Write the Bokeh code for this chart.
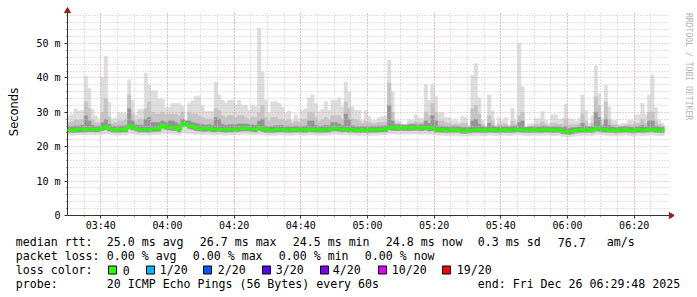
import math
from bokeh.plotting import figure
from bokeh.layouts import column, row
from bokeh.models import Range1d, FixedTicker, Grid
from bokeh.core.properties import value
from bokeh.embed import file_html
from bokeh.resources import INLINE

# ---------------- data (ms), one value per minute starting 03:30 ----------------
START_MIN = 210  # 03:30 in minutes since midnight

hi = [29.0, 29.5, 31.0, 30.4, 30.5, 40.5, 37.0, 30.9, 29.0, 28.0,
      40.1, 46.3, 33.0, 28.0, 28.5, 29.8, 29.8, 29.8, 39.3, 33.5,
      29.3, 30.9, 30.9, 41.4, 37.9, 36.3, 36.3, 33.9, 33.9, 31.5,
      31.5, 32.6, 32.6, 32.6, 31.8, 27.7, 32.6, 33.3, 34.7, 34.7,
      32.0, 30.2, 30.2, 30.2, 38.8, 35.0, 33.5, 32.8, 33.5, 33.5,
      32.1, 33.5, 32.1, 32.1, 30.6, 32.1, 31.7, 54.4, 41.7, 33.5,
      29.9, 33.1, 33.1, 32.6, 31.5, 29.7, 30.4, 27.7, 29.3, 28.3,
      30.6, 31.1, 34.3, 35.0, 32.6, 30.2, 30.9, 33.1, 30.6, 33.5,
      33.5, 34.2, 31.6, 38.8, 35.9, 31.6, 30.6, 30.6, 27.7, 30.5,
      28.8, 27.7, 27.7, 28.5, 28.8, 29.0, 45.2, 35.9, 27.7, 27.5,
      26.3, 26.3, 27.9, 27.7, 29.3, 28.5, 28.1, 38.1, 33.5, 38.0,
      34.6, 29.9, 29.9, 28.5, 28.5, 27.7, 27.9, 27.2, 28.8, 28.5,
      26.3, 40.8, 44.2, 34.2, 27.7, 26.0, 35.0, 30.4, 26.3, 28.5,
      27.7, 28.5, 26.3, 31.1, 27.7, 50.0, 37.4, 25.8, 26.5, 26.8,
      28.1, 28.1, 30.2, 27.7, 26.8, 29.3, 29.3, 28.0, 28.2, 32.4,
      28.2, 28.0, 27.5, 28.2, 35.0, 30.6, 26.8, 29.0, 43.5, 35.5,
      28.0, 37.9, 31.6, 27.7, 27.7, 26.5, 26.8, 26.8, 27.7, 27.7,
      29.3, 29.3, 32.6, 29.3, 35.0, 40.8, 31.4, 27.7, 26.8]

upper2 = [27.0, 27.3, 27.8, 27.6, 27.8, 33.0, 31.0, 27.8, 27.0, 26.8,
          30.0, 34.0, 28.5, 26.8, 27.0, 27.5, 27.5, 27.8, 35.0, 29.5,
          27.5, 28.0, 28.0, 31.0, 33.0, 30.0, 29.5, 29.5, 30.0, 29.5,
          29.5, 29.5, 29.5, 29.0, 30.0, 27.5, 30.0, 29.5, 29.5, 29.0,
          28.5, 28.0, 28.0, 28.0, 31.0, 30.5, 29.0, 28.5, 29.0, 29.0,
          28.5, 29.0, 29.0, 28.5, 28.0, 28.5, 28.5, 30.0, 32.0, 28.5,
          27.5, 28.5, 28.5, 28.0, 28.0, 27.5, 27.8, 26.8, 27.5, 27.0,
          27.8, 28.0, 30.0, 30.0, 28.5, 27.5, 27.8, 28.5, 27.8, 29.0,
          29.0, 29.0, 28.0, 33.0, 31.0, 28.0, 27.8, 27.5, 26.8, 27.5,
          27.0, 26.8, 26.8, 27.0, 27.0, 27.2, 38.5, 30.0, 26.8, 26.8,
          26.2, 26.2, 26.8, 26.8, 27.2, 27.0, 27.0, 30.0, 29.0, 32.5,
          30.0, 27.5, 27.5, 27.0, 26.8, 26.5, 26.6, 26.4, 26.8, 26.8,
          25.9, 31.0, 32.0, 29.5, 26.5, 25.8, 29.0, 27.5, 25.9, 26.6,
          26.4, 26.6, 25.9, 27.5, 26.4, 29.0, 30.0, 25.6, 25.9, 26.0,
          26.5, 26.5, 27.2, 26.4, 26.0, 26.8, 26.8, 26.5, 26.5, 28.0,
          26.3, 26.4, 26.3, 26.6, 29.5, 27.5, 26.0, 26.8, 34.5, 32.0,
          26.5, 33.0, 28.0, 26.4, 26.4, 26.0, 26.0, 26.2, 26.4, 26.4,
          26.8, 26.8, 28.0, 26.8, 30.0, 30.0, 27.5, 26.4, 26.0]

upper3 = [25.8, 25.9, 26.1, 26.0, 26.2, 29.0, 27.5, 26.2, 25.9, 26.0,
          27.0, 28.0, 26.5, 25.9, 25.9, 26.0, 26.0, 26.1, 31.0, 27.5,
          26.3, 26.2, 26.2, 28.0, 28.5, 27.0, 27.0, 27.0, 27.5, 27.0,
          27.5, 27.5, 27.0, 26.5, 28.0, 27.5, 27.5, 27.0, 26.8, 26.6,
          26.4, 26.3, 26.4, 26.1, 28.5, 28.0, 26.5, 26.2, 26.4, 26.4,
          26.4, 26.6, 26.6, 26.6, 26.4, 26.3, 26.2, 27.5, 28.0, 26.0,
          25.8, 26.0, 26.1, 26.1, 26.1, 25.9, 25.9, 25.8, 26.0, 25.9,
          25.9, 26.0, 27.5, 27.5, 26.2, 25.9, 26.0, 26.2, 26.1, 27.0,
          27.0, 26.6, 26.1, 29.5, 28.0, 26.1, 25.9, 25.9, 25.8, 25.9,
          25.8, 25.9, 25.9, 26.0, 26.0, 26.1, 32.0, 27.5, 26.4, 26.4,
          26.4, 26.3, 26.4, 26.5, 26.5, 26.4, 26.4, 27.5, 26.8, 29.0,
          27.5, 25.9, 25.9, 25.8, 25.8, 25.9, 25.9, 25.8, 25.6, 25.6,
          25.6, 27.5, 28.0, 26.5, 25.8, 25.7, 26.8, 26.0, 25.7, 25.8,
          25.8, 25.9, 25.7, 26.0, 26.0, 27.0, 27.5, 25.6, 25.7, 25.8,
          25.8, 25.7, 26.0, 25.9, 25.8, 25.8, 25.8, 25.8, 25.5, 25.8,
          25.3, 25.5, 25.6, 25.7, 26.8, 26.0, 25.8, 25.8, 30.0, 28.5,
          26.0, 28.0, 26.2, 25.7, 25.6, 25.7, 25.8, 25.9, 25.7, 25.6,
          25.8, 25.9, 26.2, 25.8, 27.5, 27.5, 26.0, 25.7, 25.6]

median = [24.8, 24.8, 24.9, 24.9, 25.0, 25.0, 25.2, 25.1, 25.0, 25.1,
          25.4, 25.7, 25.3, 25.0, 24.9, 24.9, 25.0, 25.0, 26.0, 25.6,
          25.3, 25.0, 25.0, 25.0, 24.9, 25.1, 25.2, 25.2, 26.2, 25.8,
          25.6, 25.5, 25.4, 25.0, 26.6, 26.6, 26.0, 25.8, 25.4, 25.3,
          25.2, 25.2, 25.3, 25.0, 25.0, 25.1, 25.0, 24.9, 25.0, 25.0,
          25.1, 25.2, 25.3, 25.3, 25.3, 25.1, 25.0, 25.5, 25.2, 24.9,
          24.8, 24.8, 24.9, 25.0, 25.0, 24.9, 24.8, 24.9, 25.0, 25.0,
          24.9, 24.9, 25.1, 25.0, 24.9, 24.8, 24.9, 24.9, 25.0, 25.3,
          25.3, 25.2, 25.0, 25.1, 24.9, 25.0, 24.8, 24.8, 24.9, 24.8,
          24.8, 24.9, 24.9, 25.0, 25.0, 25.0, 25.6, 25.5, 25.4, 25.4,
          25.5, 25.4, 25.4, 25.5, 25.5, 25.4, 25.4, 25.6, 25.3, 25.4,
          25.0, 24.9, 24.9, 24.8, 24.8, 24.9, 24.9, 24.8, 24.6, 24.6,
          24.7, 24.8, 24.9, 24.9, 24.8, 24.8, 24.9, 24.9, 24.8, 24.8,
          24.9, 24.9, 24.8, 24.9, 25.0, 25.0, 24.9, 24.8, 24.8, 24.9,
          24.9, 24.8, 24.9, 25.0, 24.9, 24.8, 24.8, 24.9, 24.5, 24.4,
          24.3, 24.5, 24.7, 24.8, 24.9, 24.8, 24.9, 24.8, 25.3, 25.2,
          25.0, 24.9, 24.8, 24.8, 24.7, 24.8, 24.9, 25.0, 24.8, 24.7,
          24.8, 24.9, 24.8, 24.9, 25.0, 25.1, 24.9, 24.8, 24.8]

# bottom of the darker smoke (lower pings)
low2 = [24.1, 24.1, 24.2, 24.2, 24.3, 24.3, 24.5, 24.4, 24.3, 24.4,
        24.7, 25.0, 24.6, 24.3, 24.2, 24.2, 24.3, 24.3, 25.3, 24.9,
        24.6, 24.3, 24.3, 24.3, 24.2, 24.4, 24.5, 24.5, 25.5, 25.1,
        24.9, 24.8, 24.7, 24.3, 25.9, 25.9, 25.3, 25.1, 24.7, 24.6,
        24.5, 24.5, 24.6, 24.3, 24.3, 24.4, 24.3, 24.2, 24.3, 24.3,
        24.4, 24.5, 24.6, 24.6, 24.6, 24.4, 24.3, 24.8, 24.5, 24.2,
        24.1, 24.1, 24.2, 24.3, 24.3, 24.2, 24.1, 24.2, 24.3, 24.3,
        24.2, 24.2, 24.4, 24.3, 24.2, 24.1, 24.2, 24.2, 24.3, 24.6,
        24.6, 24.5, 24.3, 24.4, 24.2, 24.3, 24.1, 24.1, 24.2, 24.1,
        24.1, 24.2, 24.2, 24.3, 24.3, 24.3, 24.9, 24.8, 24.7, 24.7,
        24.8, 24.7, 24.7, 24.8, 24.8, 24.7, 24.7, 24.9, 24.6, 24.7,
        24.3, 24.2, 24.2, 24.1, 24.1, 24.2, 24.2, 24.1, 23.9, 23.9,
        24.0, 24.1, 24.2, 24.2, 24.1, 24.1, 24.2, 24.2, 24.1, 24.1,
        24.2, 24.2, 24.1, 24.2, 24.3, 24.3, 24.2, 24.1, 24.1, 24.2,
        24.2, 24.1, 24.2, 24.3, 24.2, 24.1, 24.1, 24.2, 23.8, 23.7,
        23.6, 23.8, 24.0, 24.1, 24.2, 24.1, 24.2, 24.1, 24.6, 24.5,
        24.3, 24.2, 24.1, 24.1, 24.0, 24.1, 24.2, 24.3, 24.1, 24.0,
        24.1, 24.2, 24.1, 24.2, 24.3, 24.4, 24.2, 24.1, 24.1]

# minimum ping (bottom of the light smoke)
low = [23.3, 23.3, 23.4, 23.4, 23.5, 23.4, 23.5, 23.5, 23.4, 23.5,
       23.6, 23.7, 23.6, 23.4, 23.3, 23.3, 23.4, 23.4, 23.8, 23.7,
       23.6, 23.4, 23.4, 23.4, 23.3, 23.5, 23.5, 23.5, 23.9, 23.8,
       23.7, 23.7, 23.6, 23.4, 24.0, 24.0, 23.8, 23.7, 23.6, 23.6,
       23.5, 23.5, 23.6, 23.4, 23.4, 23.5, 23.4, 23.3, 23.4, 23.4,
       23.5, 23.5, 23.6, 23.6, 23.6, 23.5, 23.4, 23.6, 23.5, 23.3,
       23.3, 23.3, 23.3, 23.4, 23.4, 23.3, 23.3, 23.3, 23.4, 23.4,
       23.3, 23.3, 23.5, 23.4, 23.3, 23.3, 23.3, 23.3, 23.4, 23.6,
       23.6, 23.5, 23.4, 23.5, 23.3, 23.4, 23.3, 23.2, 23.3, 23.2,
       23.2, 23.3, 23.3, 23.4, 23.4, 23.4, 23.7, 23.7, 23.6, 23.6,
       23.7, 23.6, 23.6, 23.7, 23.7, 23.6, 23.6, 23.7, 23.6, 23.6,
       23.4, 23.3, 23.3, 23.2, 23.2, 23.3, 23.3, 23.2, 23.1, 23.1,
       23.1, 23.2, 23.3, 23.3, 23.2, 23.2, 23.3, 23.3, 23.2, 23.2,
       23.3, 23.3, 23.2, 23.3, 23.4, 23.4, 23.3, 23.2, 23.2, 23.3,
       23.3, 23.2, 23.3, 23.4, 23.3, 23.2, 23.2, 23.3, 23.0, 22.9,
       22.8, 23.0, 23.1, 23.2, 23.3, 23.2, 23.3, 23.2, 23.6, 23.6,
       23.4, 23.3, 23.2, 23.2, 23.1, 23.2, 23.3, 23.4, 23.2, 23.1,
       23.2, 23.3, 23.2, 23.3, 23.4, 23.5, 23.3, 23.2, 23.2]

x_ticks = [220, 240, 260, 280, 300, 320, 340, 360, 380]
x_tick_labels = ["03:40", "04:00", "04:20", "04:40", "05:00", "05:20", "05:40", "06:00", "06:20"]
x_minor = [215, 220, 225, 230, 235, 240, 245, 250, 255, 260, 265, 270, 275, 280, 285,
           290, 295, 300, 305, 310, 315, 320, 325, 330, 335, 340, 345, 350, 355, 360,
           365, 370, 375, 380, 385]
y_ticks = [0, 10, 20, 30, 40, 50]
y_tick_labels = ["0", "10 m", "20 m", "30 m", "40 m", "50 m"]
y_minor = [2, 4, 6, 8, 12, 14, 16, 18, 22, 24, 26, 28, 32, 34, 36, 38, 42, 44, 46, 48, 52, 54, 56, 58]

loss_labels = ["0", "1/20", "2/20", "3/20", "4/20", "10/20", "19/20"]
loss_colors = ["#26ff00", "#00b8ff", "#0059ff", "#5e00ff", "#7e00ff", "#dd00ff", "#ff0000"]

# ---------------- layout geometry (canvas pixels) ----------------
W, H = 697, 297
FRAME_L, FRAME_R, FRAME_T, FRAME_B = 67, 674, 8, 215
GRID_R, GRID_T = 668, 13
TOP_H = 233
PX_PER_MIN = 600 / 180.0
PX_PER_MS = 3.44
X_END = START_MIN + (FRAME_R - FRAME_L) / PX_PER_MIN
Y_END = (FRAME_B - FRAME_T) / PX_PER_MS

p = figure(width=FRAME_R, height=TOP_H, x_range=Range1d(START_MIN, X_END), y_range=Range1d(0, Y_END),
           min_border_left=FRAME_L, min_border_right=0, min_border_top=FRAME_T,
           min_border_bottom=TOP_H - FRAME_B, output_backend="svg", toolbar_location=None)
p.outline_line_color = None
p.background_fill_color = "white"
p.border_fill_color = "white"

n = len(hi)
left = [START_MIN + i for i in range(n)]
right = [START_MIN + i + 1 for i in range(n)]

for bottom, top, col in ((low, hi, "#dddddd"), (low2, upper2, "#c4c4c4"), (low2, upper3, "#959595")):
    p.quad(left=left, right=right, bottom=bottom, top=top, fill_color=col,
           line_color=col, line_width=0.6, level="underlay")

step_x = left + [right[-1]]
step_y = median + [median[-1]]
p.step(x=step_x, y=step_y, mode="after", line_color="#26ff00", line_width=3, level="overlay")

MGRID = "#e6a0a0"
GRID = "#c4c4c4"
p.xaxis.ticker = FixedTicker(ticks=x_ticks, minor_ticks=x_minor)
p.yaxis.ticker = FixedTicker(ticks=y_ticks, minor_ticks=y_minor)
p.xaxis.major_label_overrides = {t: s for t, s in zip(x_ticks, x_tick_labels)}
p.yaxis.major_label_overrides = {t: s for t, s in zip(y_ticks, y_tick_labels)}

for g in (p.xgrid, p.ygrid):
    g.grid_line_color = MGRID
    g.grid_line_dash = "1 2"
    g.grid_line_width = 1
    g.minor_grid_line_color = GRID
    g.minor_grid_line_dash = "1 2"
    g.minor_grid_line_width = 1
    g.level = "glyph"

if "cross_bounds" in Grid.properties():
    p.xgrid.cross_bounds = (0, (FRAME_B - GRID_T) / PX_PER_MS)
    p.ygrid.cross_bounds = (START_MIN, START_MIN + (GRID_R - FRAME_L) / PX_PER_MIN)

for ax in (p.xaxis, p.yaxis):
    ax.axis_line_color = "#333333"
    ax.major_tick_line_color = "#333333"
    ax.minor_tick_line_color = "#333333"
    ax.major_tick_out = 3
    ax.major_tick_in = 0
    ax.minor_tick_out = 1
    ax.minor_tick_in = 0
    ax.major_label_text_font = "DejaVu Sans Mono"
    ax.major_label_text_font_size = "10px"
    ax.major_label_text_color = "#000000"
p.yaxis.major_label_standoff = 4
p.xaxis.major_label_standoff = 1
p.yaxis.axis_label = "Seconds"
p.yaxis.axis_label_text_font = "DejaVu Sans"
p.yaxis.axis_label_text_font_size = "11.5px"
p.yaxis.axis_label_text_font_style = "normal"
p.yaxis.axis_label_text_color = "#000000"
p.yaxis.axis_label_standoff = 12

# axis arrow heads
ARROW = "#902020"
p.scatter(x=[START_MIN], y=[(FRAME_B - 10.5) / PX_PER_MS], marker="triangle", size=6,
          fill_color=ARROW, line_color=ARROW, level="overlay")
p.scatter(x=[START_MIN + (670.5 - FRAME_L) / PX_PER_MIN], y=[0], marker="triangle", size=6,
          angle=-math.pi / 2, fill_color=ARROW, line_color=ARROW, level="overlay")

# watermark strip on the right
wm = figure(width=W - FRAME_R, height=TOP_H, x_range=Range1d(FRAME_R, W), y_range=Range1d(TOP_H, 0),
            min_border=0, output_backend="svg", toolbar_location=None)
wm.axis.visible = False
wm.grid.visible = False
wm.outline_line_color = None
wm.text(x=[688], y=[5], text=["RRDTOOL / TOBI OETIKER"], angle=-math.pi / 2,
        text_font=value("DejaVu Sans Mono"), text_font_size=value("8.1px"),
        text_color="#b4b4b4", text_align="left", text_baseline="middle")

# legend block below
lg = figure(width=W, height=H - TOP_H, x_range=Range1d(0, W), y_range=Range1d(H, TOP_H),
            min_border=0, output_backend="svg", toolbar_location=None)
lg.axis.visible = False
lg.grid.visible = False
lg.outline_line_color = None

row1 = [("median rtt:", 16), ("25.0 ms avg", 107), ("26.7 ms max", 200), ("24.5 ms min", 293),
        ("24.8 ms now", 386), ("0.3 ms sd", 478), ("76.7", 558), ("am/s", 607)]
row2 = [("packet loss:", 16), ("0.00 % avg", 107), ("0.00 % max", 193), ("0.00 % min", 279),
        ("0.00 % now", 365)]
row4 = [("probe:", 16), ("20 ICMP Echo Pings (56 Bytes) every 60s", 107),
        ("end: Fri Dec 26 06:29:48 2025", 478)]
row3 = [("loss color:", 16)]
box_left = [108, 146, 203, 262, 320, 378, 442]
text_left = [123, 160, 218, 276, 333, 392, 457]
row3 += list(zip(loss_labels, text_left))

tx, ty, tt = [], [], []
for rw, cy in ((row1, 241.7), (row2, 255.3), (row3, 269.5), (row4, 283.0)):
    for t, cx in rw:
        tx.append(cx - 0.7)
        ty.append(cy)
        tt.append(t)
lg.text(x=tx, y=ty, text=tt, text_font=value("DejaVu Sans Mono"), text_font_size=value("11.6px"),
        text_color="#000000", text_align="left", text_baseline="middle")

lg.quad(left=box_left, right=[b + 8 for b in box_left], top=[265.5] * len(box_left),
        bottom=[273.5] * len(box_left), fill_color=loss_colors, line_color="#000000", line_width=1)

layout = column(row(p, wm), lg)
open("out.html", "w").write(file_html(layout, INLINE))
